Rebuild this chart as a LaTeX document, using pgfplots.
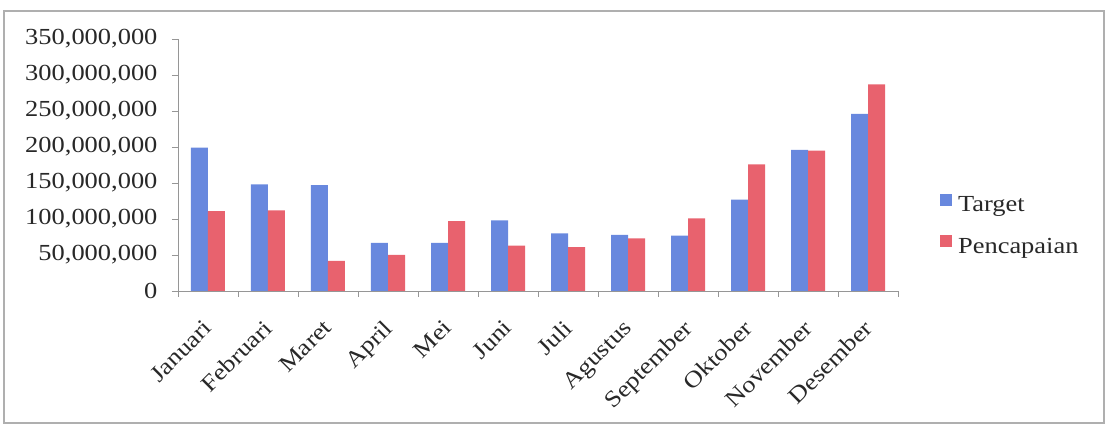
\documentclass[border=0pt]{standalone}
\usepackage{pgfplots}
\pgfplotsset{compat=1.18}
\usepackage{fontspec}
\setmainfont{Liberation Serif}[FakeStretch=1.15]

\definecolor{targetblue}{RGB}{104,136,222}
\definecolor{hasilred}{RGB}{232,98,110}
\definecolor{axisgray}{RGB}{150,150,150}
\definecolor{framegray}{RGB}{175,175,175}
\definecolor{textgray}{RGB}{40,40,40}

% filled square used as legend marker for the bar series
\pgfplotsset{
  squarelegend/.style={legend image code/.code={\fill[##1] (0pt,-1pt) rectangle (12pt,11pt);}}
}

\begin{document}
\begin{tikzpicture}
\path[use as bounding box] (-178pt,-136pt) rectangle (928pt,291pt);
\draw[framegray, line width=1.2pt] (-174pt,-132pt) rectangle (926pt,280pt);
\begin{axis}[
  scale only axis,
  width=720pt, height=252pt,
  xmin=-0.5, xmax=11.5,
  ymin=0, ymax=350000000,
  axis x line*=bottom, axis y line*=left,
  axis line style={axisgray, line width=0.8pt, -},
  tick align=outside,
  major tick length=6pt,
  tick style={axisgray, line width=0.8pt},
  ytick={0,50000000,100000000,150000000,200000000,250000000,300000000,350000000},
  scaled y ticks=false,
  yticklabel style={xshift=-11pt,
    /pgf/number format/fixed,
    /pgf/number format/precision=0,
    /pgf/number format/1000 sep={,},
    /pgf/number format/assume math mode=true},
  xtick={-0.5,0.5,...,11.5},
  xticklabels={},
  extra x ticks={0,...,11},
  extra x tick labels={Januari,Februari,Maret,April,Mei,Juni,Juli,Agustus,September,Oktober,November,Desember},
  extra x tick style={major tick length=0pt,
    xticklabel style={rotate=45, anchor=north east, yshift=-12pt, xshift=-20pt}},
  ticklabel style={font=\fontsize{23}{27}\selectfont, text=textgray},
  ybar=0pt, bar width=17pt,
  legend style={at={(1.054,0.26)}, anchor=west, draw=none, fill=none,
    font=\fontsize{23}{27}\selectfont, text=textgray, row sep=20pt,
    legend cell align=left,
    nodes={inner xsep=6pt}},
]
\addplot[fill=targetblue, draw=none, squarelegend] coordinates {
  (0,199000000) (1,148000000) (2,147000000) (3,67000000) (4,67000000) (5,98000000)
  (6,80000000) (7,78000000) (8,77000000) (9,127000000) (10,196000000) (11,246000000)};
\addplot[fill=hasilred, draw=none, squarelegend] coordinates {
  (0,111000000) (1,112000000) (2,42000000) (3,50000000) (4,97000000) (5,63000000)
  (6,61000000) (7,73000000) (8,101000000) (9,176000000) (10,195000000) (11,287000000)};
\legend{Target, Pencapaian}
\end{axis}
\end{tikzpicture}
\end{document}
